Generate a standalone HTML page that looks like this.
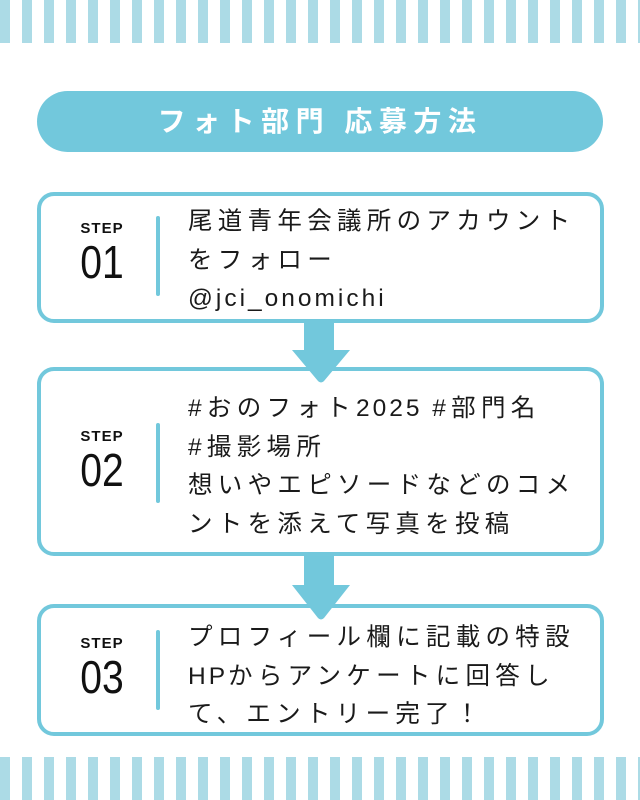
<!DOCTYPE html>
<html><head><meta charset="utf-8"><style>
html,body{margin:0;padding:0;}
body{width:640px;height:800px;position:relative;background:#fff;overflow:hidden;font-family:"Liberation Sans","Noto Sans CJK JP",sans-serif;}
.t{position:absolute;left:188px;font-size:24.5px;color:#1a1a1a;letter-spacing:5.3px;line-height:38.5px;white-space:nowrap;}
.l{letter-spacing:3px;}
.step{position:absolute;left:66px;width:72px;text-align:center;color:#111;}
.step .s{font-size:15px;font-weight:bold;letter-spacing:1px;}
.step .n{font-size:46px;line-height:46px;margin-top:2px;transform:scaleX(0.85);}
.title{position:absolute;left:37px;top:91px;width:566px;height:61px;line-height:61px;text-align:center;color:#fff;font-size:28px;font-weight:bold;letter-spacing:6.5px;}
</style></head><body>
<svg width="640" height="800" style="position:absolute;left:0;top:0">
<defs><pattern id="st" x="0" y="0" width="22" height="50" patternUnits="userSpaceOnUse"><rect x="0" y="0" width="10" height="50" fill="#acdbe6"/></pattern></defs>
<rect x="0" y="0" width="640" height="43" fill="url(#st)"/>
<rect x="0" y="757" width="640" height="43" fill="url(#st)"/>
<rect x="37" y="91" width="566" height="61" rx="30.5" fill="#72c8dc"/>
<g fill="none" stroke="#72c8dc" stroke-width="4">
<rect x="39" y="194" width="563" height="127" rx="15"/>
<rect x="39" y="369" width="563" height="185" rx="15"/>
<rect x="39" y="606" width="563" height="128" rx="15"/>
</g>
<g fill="#72c8dc">
<rect x="156" y="216" width="4" height="80" rx="2"/>
<rect x="156" y="423" width="4" height="80" rx="2"/>
<rect x="156" y="630" width="4" height="80" rx="2"/>
<rect x="304" y="322" width="30" height="30"/>
<path d="M292 350 L350 350 L324 381 Q321 384 318 381 Z"/>
<rect x="304" y="556" width="30" height="30"/>
<path d="M292 585 L350 585 L324 618 Q321 621 318 618 Z"/>
</g>
</svg>
<div class="title">フォト部門 応募方法</div>
<div class="step" style="top:220px"><div class="s">STEP</div><div class="n">01</div></div>
<div class="step" style="top:428px"><div class="s">STEP</div><div class="n">02</div></div>
<div class="step" style="top:635px"><div class="s">STEP</div><div class="n">03</div></div>
<div class="t" style="top:203px">尾道青年会議所のアカウント<br>をフォロー<br><span class="l">@jci_onomichi</span></div>
<div class="t" style="top:390px">#おのフォト<span class="l">2025 </span>#部門名<br>#撮影場所<br>想いやエピソードなどのコメ<br>ントを添えて写真を投稿</div>
<div class="t" style="top:619px">プロフィール欄に記載の特設<br><span class="l">HP</span>からアンケートに回答し<br>て、エントリー完了！</div>
</body></html>
